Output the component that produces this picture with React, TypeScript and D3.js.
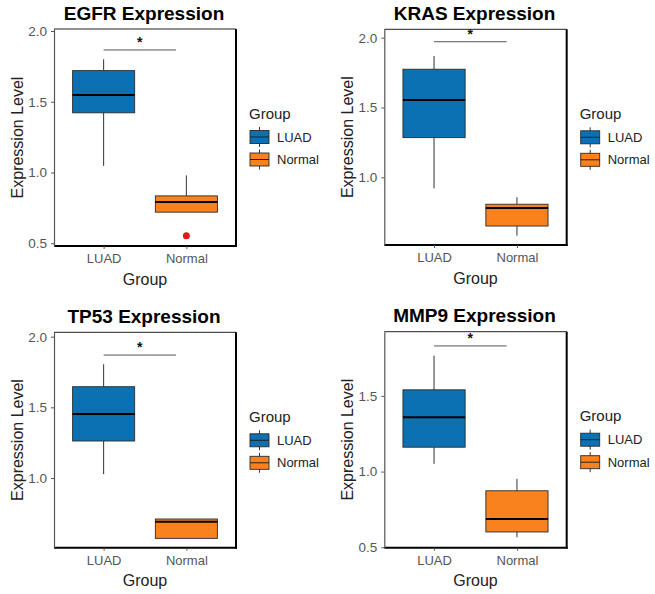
import { useEffect, useRef } from 'react';
import * as d3 from 'd3';

// Genes (one panel each) and the two groups
const genes = ['EGFR', 'KRAS', 'TP53', 'MMP9'];
const groups = ['LUAD', 'Normal'];

// Box statistics per gene
const luadLow = [1.047, 0.921, 1.028, 1.051];
const luadQ1 = [1.422, 1.284, 1.262, 1.161];
const luadMedian = [1.547, 1.554, 1.453, 1.359];
const luadQ3 = [1.72, 1.774, 1.646, 1.54];
const luadHigh = [1.8, 1.869, 1.805, 1.766];

const normalLow = [0.72, 0.582, 0.573, 0.566];
const normalQ1 = [0.72, 0.651, 0.573, 0.601];
const normalMedian = [0.792, 0.78, 0.691, 0.687];
const normalQ3 = [0.835, 0.807, 0.71, 0.873];
const normalHigh = [0.98, 0.857, 0.71, 0.952];
const normalOutliers = [[0.553], [], [], []];

// Significance bracket level and label
const sigLevel = [1.866, 1.971, 1.87, 1.83];
const sigLabel = ['*', '*', '*', '*'];

// y axis ranges and ticks
const yDomains = [[0.481, 2.014], [0.515, 2.06], [0.507, 2.031], [0.497, 1.924]];
const yTicks = [[0.5, 1.0, 1.5, 2.0], [1.0, 1.5, 2.0], [1.0, 1.5, 2.0], [0.5, 1.0, 1.5]];

const groupColors = ['#0b71b3', '#f9811e'];

const FONT = 'Liberation Sans, Arial, Helvetica, sans-serif';

const App = () => {
  const svgRef = useRef<SVGSVGElement | null>(null);

  useEffect(() => {
    const root = d3.select(svgRef.current);
    root.selectAll('*').remove();

    root.append('rect').attr('width', 655).attr('height', 594).attr('fill', '#ffffff');

    // plot rectangles for the four panels
    const panels = [
      { left: 54, right: 236, top: 29, bottom: 246 },
      { left: 384.3, right: 566.7, top: 29.3, bottom: 245 },
      { left: 54, right: 236, top: 332.3, bottom: 547.7 },
      { left: 384.3, right: 566.7, top: 331.7, bottom: 547.7 },
    ];

    genes.forEach((gene, i) => {
      const p = panels[i];
      const g = root.append('g');

      const x = d3.scalePoint<string>()
        .domain(groups)
        .range([p.left, p.right])
        .padding(0.6);
      const step = x.step();
      const boxW = step * 0.75;

      const y = d3.scaleLinear()
        .domain(yDomains[i])
        .range([p.bottom, p.top]);

      // title
      g.append('text')
        .attr('x', (p.left + p.right) / 2 - 1)
        .attr('y', p.top - 16)
        .attr('text-anchor', 'middle')
        .attr('dominant-baseline', 'central')
        .attr('font-family', FONT)
        .attr('font-weight', 'bold')
        .attr('font-size', 19)
        .attr('fill', '#000')
        .text(`${gene} Expression`);

      const stats = [
        { low: luadLow[i], q1: luadQ1[i], med: luadMedian[i], q3: luadQ3[i], high: luadHigh[i], out: [] as number[] },
        { low: normalLow[i], q1: normalQ1[i], med: normalMedian[i], q3: normalQ3[i], high: normalHigh[i], out: normalOutliers[i] },
      ];

      stats.forEach((s, k) => {
        const cx = x(groups[k]) as number;
        // whiskers
        g.append('line')
          .attr('x1', cx).attr('x2', cx)
          .attr('y1', y(s.q3)).attr('y2', y(s.high))
          .attr('stroke', '#333').attr('stroke-width', 1);
        g.append('line')
          .attr('x1', cx).attr('x2', cx)
          .attr('y1', y(s.q1)).attr('y2', y(s.low))
          .attr('stroke', '#333').attr('stroke-width', 1);
        // box
        g.append('rect')
          .attr('x', cx - boxW / 2)
          .attr('y', y(s.q3))
          .attr('width', boxW)
          .attr('height', y(s.q1) - y(s.q3))
          .attr('fill', groupColors[k])
          .attr('stroke', '#2b2b2b')
          .attr('stroke-width', 0.9);
        // median
        g.append('line')
          .attr('x1', cx - boxW / 2).attr('x2', cx + boxW / 2)
          .attr('y1', y(s.med)).attr('y2', y(s.med))
          .attr('stroke', '#000').attr('stroke-width', 2);
        // outliers
        s.out.forEach(v => {
          g.append('circle')
            .attr('cx', cx).attr('cy', y(v)).attr('r', 3.5)
            .attr('fill', '#e01b1b');
        });
      });

      // significance bracket
      const x1 = x(groups[0]) as number;
      const x2 = x1 + step * 0.875;
      g.append('line')
        .attr('x1', x1).attr('x2', x2)
        .attr('y1', y(sigLevel[i])).attr('y2', y(sigLevel[i]))
        .attr('stroke', '#555').attr('stroke-width', 1);
      g.append('text')
        .attr('x', (x1 + x2) / 2)
        .attr('y', y(sigLevel[i]) - 3)
        .attr('text-anchor', 'middle')
        .attr('font-family', FONT)
        .attr('font-weight', 'bold')
        .attr('font-size', 14)
        .attr('fill', '#111')
        .text(sigLabel[i]);

      // panel border: light top/left, heavy right/bottom
      g.append('line')
        .attr('x1', p.left).attr('x2', p.right)
        .attr('y1', p.top).attr('y2', p.top)
        .attr('stroke', '#222').attr('stroke-width', 1);
      g.append('line')
        .attr('x1', p.right).attr('x2', p.right)
        .attr('y1', p.top).attr('y2', p.bottom + 1)
        .attr('stroke', '#000').attr('stroke-width', 2);
      g.append('line')
        .attr('x1', p.left).attr('x2', p.right + 1)
        .attr('y1', p.bottom).attr('y2', p.bottom)
        .attr('stroke', '#000').attr('stroke-width', 2);

      // y axis
      const yAxis = g.append('g')
        .attr('transform', `translate(${p.left},0)`)
        .call(d3.axisLeft(y).tickValues(yTicks[i]).tickFormat(d3.format('.1f')).tickSize(3).tickSizeOuter(0).tickPadding(4));
      yAxis.select('.domain').attr('stroke', '#555').attr('stroke-width', 1.2);
      yAxis.selectAll('.tick line').attr('stroke', '#555');
      yAxis.selectAll('.tick text')
        .attr('font-family', FONT)
        .attr('font-size', 13.5)
        .attr('fill', '#555');

      // x axis
      const xAxis = g.append('g')
        .attr('transform', `translate(0,${p.bottom})`)
        .call(d3.axisBottom(x).tickSize(3).tickSizeOuter(0).tickPadding(5));
      xAxis.select('.domain').remove();
      xAxis.selectAll('.tick line').attr('stroke', '#555');
      xAxis.selectAll('.tick text')
        .attr('font-family', FONT)
        .attr('font-size', 13)
        .attr('fill', '#555');

      // axis titles
      g.append('text')
        .attr('x', (p.left + p.right) / 2)
        .attr('y', p.bottom + 33)
        .attr('text-anchor', 'middle')
        .attr('dominant-baseline', 'central')
        .attr('font-family', FONT)
        .attr('font-size', 16)
        .attr('fill', '#222')
        .text('Group');
      g.append('text')
        .attr('transform', `translate(${p.left - 37},${(p.top + p.bottom) / 2}) rotate(-90)`)
        .attr('text-anchor', 'middle')
        .attr('dominant-baseline', 'central')
        .attr('font-family', FONT)
        .attr('font-size', 16)
        .attr('fill', '#222')
        .text('Expression Level');

      // legend
      const lx = p.right + 13;
      g.append('text')
        .attr('x', lx)
        .attr('y', p.top + 84)
        .attr('dominant-baseline', 'central')
        .attr('font-family', FONT)
        .attr('font-size', 15)
        .attr('fill', '#222')
        .text('Group');
      groups.forEach((grp, k) => {
        const cy = p.top + 108 + k * 22.5;
        const kx = lx + 1;
        const kw = 19;
        g.append('line')
          .attr('x1', kx + kw / 2).attr('x2', kx + kw / 2)
          .attr('y1', cy - 10).attr('y2', cy + 10)
          .attr('stroke', '#333').attr('stroke-width', 1);
        g.append('rect')
          .attr('x', kx).attr('y', cy - 6.5)
          .attr('width', kw).attr('height', 13)
          .attr('fill', groupColors[k])
          .attr('stroke', '#2b2b2b').attr('stroke-width', 0.9);
        g.append('line')
          .attr('x1', kx).attr('x2', kx + kw)
          .attr('y1', cy).attr('y2', cy)
          .attr('stroke', '#222').attr('stroke-width', 1);
        g.append('text')
          .attr('x', kx + 27)
          .attr('y', cy)
          .attr('dominant-baseline', 'central')
          .attr('font-family', FONT)
          .attr('font-size', 13)
          .attr('fill', '#222')
          .text(grp);
      });
    });
  }, []);

  return (
    <div style={{ position: 'absolute', left: 0, top: 0 }}>
      <svg ref={svgRef} width={655} height={594} style={{ display: 'block' }}></svg>
    </div>
  );
};

export default App;
